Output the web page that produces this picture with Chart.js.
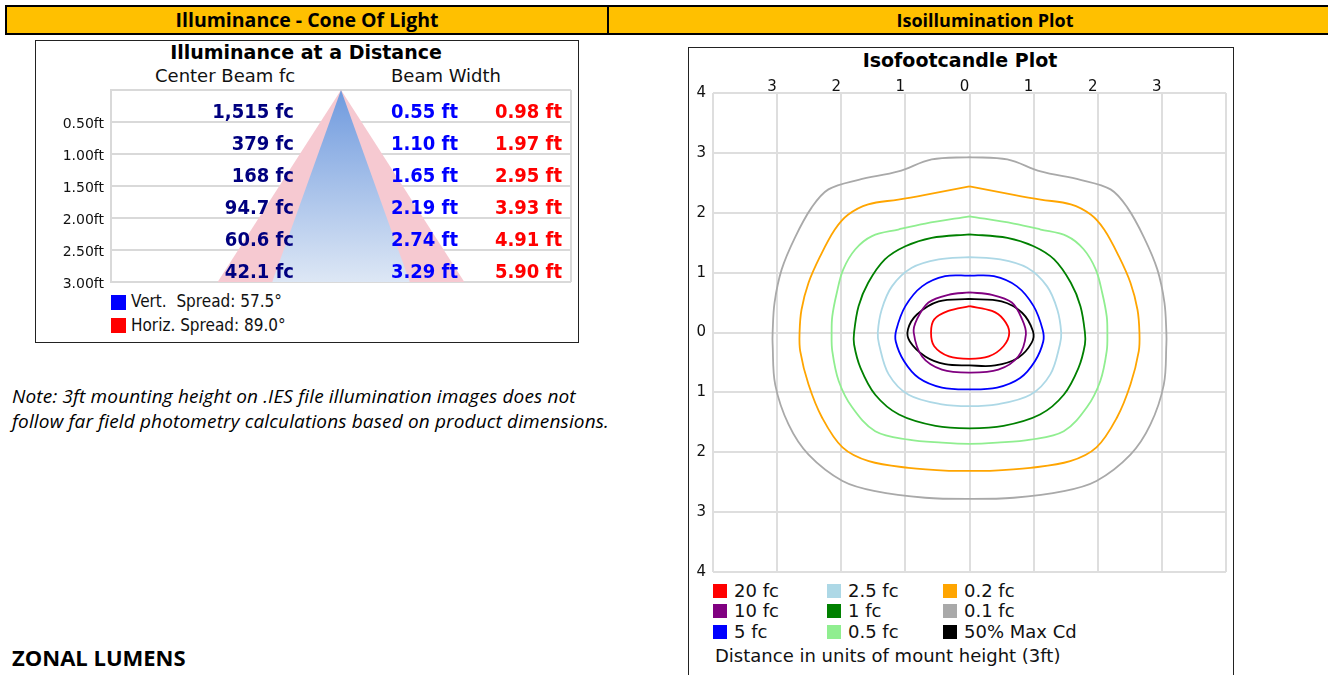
<!DOCTYPE html>
<html>
<head>
<meta charset="utf-8">
<script src="https://cdn.jsdelivr.net/npm/chart.js@4.4.1/dist/chart.umd.min.js"></script>
<style>
  body { margin: 0; background: #fff; width: 1328px; height: 675px; overflow: hidden; position: relative;
         font-family: 'DejaVu Sans', sans-serif; color: #000; }
  .bar { position: absolute; top: 5px; height: 26px; background: #ffc000; border: 2px solid #000;
         font-family: 'Open Sans', sans-serif; font-weight: bold; text-align: center; line-height: 26px; }
  #barL { left: 5px; width: 600px; font-size: 19.5px; }
  #barR { left: 607px; width: 740px; font-size: 18px; }
  .box { position: absolute; border: 1px solid #222; background: #fff; }
  .abs { position: absolute; white-space: nowrap; }
  canvas { position: absolute; }
  .sq { position: absolute; width: 14px; height: 14px; }
</style>
</head>
<body>
<div class="bar" id="barL">Illuminance - Cone Of Light</div>
<div class="bar" id="barR"><span style="position:relative; left:6px;">Isoillumination Plot</span></div>

<div class="box" style="left:35px; top:40px; width:542px; height:301px;"></div>
<div class="abs" style="left:35px; top:41px; width:542px; text-align:center; font-weight:bold; font-size:19px;">Illuminance at a Distance</div>
<div class="abs" style="left:155px; top:65px; font-size:18px; color:#111;">Center Beam fc</div>
<div class="abs" style="left:391px; top:65px; font-size:18px; color:#111;">Beam Width</div>
<div id="coneLegend"></div>
<canvas id="cone" width="541" height="300" style="left:36px; top:41px; width:541px; height:300px;"></canvas>

<div class="abs" style="left:12px; top:384px; font: italic 19px 'Open Sans', sans-serif; line-height:25px; letter-spacing:0.15px;">
Note: 3ft mounting height on .IES file illumination images does not<br>follow far field photometry calculations based on product dimensions.</div>
<div class="abs" style="left:12px; top:642px; font: bold 22px 'Open Sans', sans-serif;">ZONAL LUMENS</div>

<div class="box" style="left:688px; top:47px; width:544px; height:660px;"></div>
<div class="abs" style="left:688px; top:49px; width:544px; text-align:center; font-weight:bold; font-size:19px;">Isofootcandle Plot</div>
<canvas id="iso" width="542" height="530" style="left:689px; top:48px; width:542px; height:530px;"></canvas>
<div id="isoLegend"></div>
<div class="abs" style="left:715px; top:645px; font-size:18px; color:#111;">Distance in units of mount height (3ft)</div>

<script>
// cone of light data
const coneDistances = [0.5, 1.0, 1.5, 2.0, 2.5, 3.0];
const centerBeamFc = [1515, 379, 168, 94.7, 60.6, 42.1];
const vertWidthFt = [0.55, 1.10, 1.65, 2.19, 2.74, 3.29];
const horizWidthFt = [0.98, 1.97, 2.95, 3.93, 4.91, 5.90];
const vertSpread = 57.5;
const horizSpread = 89.0;

// isofootcandle contours, [x, y] in mount heights
const iso20 = [[0,0.44],[0.35,0.36],[0.53,0.22],[0.62,0],[0.53,-0.23],[0.30,-0.40],[0,-0.44],
  [-0.32,-0.40],[-0.55,-0.23],[-0.60,0],[-0.55,0.22],[-0.33,0.36],[0,0.44]];
const iso10 = [[0,0.67],[0.35,0.63],[0.66,0.50],[0.82,0.22],[0.88,-0.03],[0.76,-0.40],[0.45,-0.62],[0,-0.67],
  [-0.43,-0.62],[-0.74,-0.40],[-0.87,0],[-0.82,0.22],[-0.64,0.50],[-0.33,0.63],[0,0.67]];
const iso5 = [[0,0.95],[0.38,0.94],[0.74,0.77],[1.0,0.44],[1.14,0.05],[1.15,-0.15],[1.02,-0.48],[0.79,-0.76],[0.43,-0.92],[0,-0.95],
  [-0.43,-0.92],[-0.79,-0.76],[-1.02,-0.48],[-1.15,-0.15],[-1.14,0.05],[-1.0,0.44],[-0.74,0.77],[-0.38,0.94],[0,0.95]];
const iso2_5 = [[0,1.26],[0.48,1.22],[0.90,1.08],[1.21,0.77],[1.37,0.38],[1.43,0],[1.41,-0.2],[1.26,-0.70],[0.95,-1.04],[0.43,-1.20],[0,-1.23],
  [-0.43,-1.20],[-0.95,-1.04],[-1.26,-0.70],[-1.41,-0.2],[-1.43,0],[-1.37,0.38],[-1.21,0.77],[-0.90,1.08],[-0.48,1.22],[0,1.26]];
const iso1 = [[0,1.64],[0.59,1.58],[1.0,1.44],[1.32,1.22],[1.58,0.83],[1.73,0.44],[1.80,0],[1.80,-0.2],[1.70,-0.59],[1.47,-1.04],[1.10,-1.37],[0.53,-1.56],[0,-1.60],
  [-0.53,-1.56],[-1.10,-1.37],[-1.47,-1.04],[-1.70,-0.59],[-1.80,-0.2],[-1.80,0],[-1.73,0.44],[-1.58,0.83],[-1.32,1.22],[-1.0,1.44],[-0.59,1.58],[0,1.64]];
const iso0_5 = [[0,1.94],[0.69,1.82],[1.11,1.72],[1.52,1.61],[1.78,1.39],[1.97,1.05],[2.07,0.66],[2.14,0.27],[2.15,0],[2.14,-0.31],[2.04,-0.81],[1.83,-1.25],[1.47,-1.65],[0.95,-1.79],[0.43,-1.84],[0,-1.86],
  [-0.43,-1.84],[-0.95,-1.79],[-1.47,-1.65],[-1.83,-1.25],[-2.04,-0.81],[-2.14,-0.31],[-2.15,0],[-2.14,0.27],[-2.07,0.66],[-1.97,1.05],[-1.78,1.39],[-1.52,1.61],[-1.11,1.72],[-0.69,1.82],[0,1.94]];
const iso0_2 = [[0,2.44],[0.69,2.30],[1.11,2.22],[1.58,2.14],[1.89,1.97],[2.10,1.72],[2.33,1.27],[2.51,0.83],[2.62,0.38],[2.65,0],[2.64,-0.31],[2.51,-0.87],[2.30,-1.42],[1.98,-1.92],[1.57,-2.15],[0.95,-2.26],[0.32,-2.31],[0,-2.31],
  [-0.32,-2.31],[-0.95,-2.26],[-1.57,-2.15],[-1.98,-1.92],[-2.30,-1.42],[-2.51,-0.87],[-2.64,-0.31],[-2.65,0],[-2.62,0.38],[-2.51,0.83],[-2.33,1.27],[-2.10,1.72],[-1.89,1.97],[-1.58,2.14],[-1.11,2.22],[-0.69,2.30],[0,2.44]];
const iso0_1 = [[0,2.93],[0.59,2.89],[1.11,2.69],[1.73,2.55],[2.20,2.39],[2.46,2.09],[2.72,1.59],[2.93,1.05],[3.04,0.50],[3.07,0],[3.07,-0.2],[3.03,-0.87],[2.82,-1.54],[2.51,-2.04],[1.98,-2.48],[1.47,-2.65],[0.69,-2.76],[0,-2.78],
  [-0.69,-2.76],[-1.47,-2.65],[-1.98,-2.48],[-2.51,-2.04],[-2.82,-1.54],[-3.03,-0.87],[-3.07,-0.2],[-3.07,0],[-3.04,0.50],[-2.93,1.05],[-2.72,1.59],[-2.46,2.09],[-2.20,2.39],[-1.73,2.55],[-1.11,2.69],[-0.59,2.89],[0,2.93]];
const isoMaxCd = [[0,0.56],[0.50,0.52],[0.82,0.33],[0.99,0.02],[0.97,-0.17],[0.76,-0.42],[0.40,-0.55],[0,-0.55],
  [-0.38,-0.53],[-0.69,-0.40],[-0.93,-0.15],[-0.96,0.05],[-0.82,0.30],[-0.48,0.52],[0,0.56]];

const isoLevels = ['20 fc', '10 fc', '5 fc', '2.5 fc', '1 fc', '0.5 fc', '0.2 fc', '0.1 fc', '50% Max Cd'];
const isoColors = ['#ff0000', '#800080', '#0000ff', '#add8e6', '#008000', '#90ee90', '#ffa500', '#a9a9a9', '#000000'];
const isoContours = [iso20, iso10, iso5, iso2_5, iso1, iso0_5, iso0_2, iso0_1, isoMaxCd];
const isoTicks = [-4, -3, -2, -1, 0, 1, 2, 3, 4];

Chart.defaults.font.family = "'DejaVu Sans', sans-serif";
Chart.defaults.color = '#111';
Chart.defaults.animation = false;

// cone legend
const coneLeg = document.getElementById('coneLegend');
coneLeg.innerHTML =
  '<div class="sq" style="left:111px; top:295px; width:15px; height:15px; background:#0000ff"></div>' +
  '<div class="abs" style="left:131px; top:291px; font-family:\'DejaVu Sans Condensed\'; font-size:17px; color:#111;">Vert.&nbsp; Spread: ' + vertSpread.toFixed(1) + '°</div>' +
  '<div class="sq" style="left:111px; top:318px; width:15px; height:15px; background:#ff0000"></div>' +
  '<div class="abs" style="left:131px; top:315px; font-family:\'DejaVu Sans Condensed\'; font-size:17px; color:#111;">Horiz. Spread: ' + horizSpread.toFixed(1) + '°</div>';

// row values written on the cone
const coneText = {
  id: 'coneText',
  afterDraw(chart) {
    const { ctx, chartArea, scales } = chart;
    ctx.save();
    ctx.font = "bold 20px 'DejaVu Sans Condensed', 'DejaVu Sans', sans-serif";
    ctx.textAlign = 'right';
    ctx.textBaseline = 'alphabetic';
    coneDistances.forEach((d, i) => {
      const y = scales.y.getPixelForValue(d) - 4;
      ctx.fillStyle = '#00007f';
      ctx.fillText(centerBeamFc[i].toLocaleString('en-US') + ' fc', chartArea.left + 183, y);
      ctx.fillStyle = '#0000ff';
      ctx.fillText(vertWidthFt[i].toFixed(2) + ' ft', chartArea.left + 347, y);
      ctx.fillStyle = '#ff0000';
      ctx.fillText(horizWidthFt[i].toFixed(2) + ' ft', chartArea.left + 451, y);
    });
    ctx.restore();
  }
};

const last = coneDistances.length - 1;
new Chart(document.getElementById('cone'), {
  type: 'scatter',
  data: {
    datasets: [
      {
        // vertical spread cone, drawn on top
        data: [{ x: -vertWidthFt[last] / 2, y: coneDistances[last] }, { x: 0, y: 0 }, { x: vertWidthFt[last] / 2, y: coneDistances[last] }],
        showLine: true, borderWidth: 0, pointRadius: 0, tension: 0,
        backgroundColor: (c) => {
          const area = c.chart.chartArea;
          if (!area) return '#a9c2ec';
          const g = c.chart.ctx.createLinearGradient(0, area.top, 0, area.bottom);
          g.addColorStop(0, '#6f9ade');
          g.addColorStop(1, '#dde7f5');
          return g;
        },
        fill: { value: coneDistances[last] }
      },
      {
        // horizontal spread cone
        data: [{ x: -horizWidthFt[last] / 2, y: coneDistances[last] }, { x: 0, y: 0 }, { x: horizWidthFt[last] / 2, y: coneDistances[last] }],
        showLine: true, borderWidth: 0, pointRadius: 0, tension: 0,
        backgroundColor: '#f6c9d1', fill: { value: coneDistances[last] }
      }
    ]
  },
  options: {
    responsive: false,
    layout: { padding: { top: 49, right: 6, bottom: 59, left: 0 } },
    plugins: { legend: { display: false }, tooltip: { enabled: false } },
    scales: {
      x: {
        min: -5.5, max: 5.5, z: 1,
        afterBuildTicks: (s) => { s.ticks = [{ value: -5.5 }, { value: 0 }, { value: 5.5 }]; },
        afterFit: (s) => { s.height = 0; s.paddingLeft = 0; s.paddingRight = 0; },
        ticks: { display: false },
        border: { display: false },
        grid: { drawTicks: false, lineWidth: 2, color: (c) => c.tick.value === 0 ? 'rgba(170,170,170,0.45)' : '#d9d9d9' }
      },
      y: {
        reverse: true, min: 0, max: 3, z: 1,
        afterBuildTicks: (s) => { s.ticks = [0].concat(coneDistances).map(v => ({ value: v })); },
        afterFit: (s) => { s.width = 75; s.paddingTop = 0; s.paddingBottom = 0; },
        ticks: {
          padding: 7, labelOffset: 2,
          font: { size: 14 }, color: '#111',
          callback: (v) => v === 0 ? '' : v.toFixed(2) + 'ft'
        },
        border: { display: true, color: '#d9d9d9', width: 2 },
        grid: { drawTicks: false, lineWidth: 2, color: '#d9d9d9' }
      }
    }
  },
  plugins: [coneText]
});

// isofootcandle plot
new Chart(document.getElementById('iso'), {
  type: 'scatter',
  data: {
    datasets: isoContours.map((pts, i) => ({
      label: isoLevels[i],
      data: pts.map(p => ({ x: p[0], y: p[1] })),
      showLine: true, fill: false, pointRadius: 0,
      borderColor: isoColors[i], borderWidth: 1.8, tension: 0.35
    }))
  },
  options: {
    responsive: false,
    layout: { padding: { top: 0, right: 5, bottom: 6, left: 0 } },
    plugins: { legend: { display: false }, tooltip: { enabled: false } },
    scales: {
      x: {
        position: 'top', min: -4, max: 4,
        afterBuildTicks: (s) => { s.ticks = isoTicks.map(v => ({ value: v })); },
        afterFit: (s) => { s.height = 45; s.paddingLeft = 0; s.paddingRight = 0; },
        ticks: {
          padding: -3, labelOffset: -5, maxRotation: 0,
          font: { size: 15 }, color: '#111',
          callback: (v) => Math.abs(v) === 4 ? '' : String(Math.abs(v))
        },
        border: { display: false },
        grid: { drawTicks: false, lineWidth: 2, color: '#dedede' }
      },
      y: {
        min: -4, max: 4,
        afterBuildTicks: (s) => { s.ticks = isoTicks.map(v => ({ value: v })); },
        afterFit: (s) => { s.width = 24; s.paddingTop = 0; s.paddingBottom = 0; },
        ticks: {
          padding: 7, font: { size: 15 }, color: '#111',
          callback: (v) => String(Math.abs(v))
        },
        border: { display: false },
        grid: { drawTicks: false, lineWidth: 2, color: '#dedede' }
      }
    }
  }
});

// isofootcandle legend, three per column
const isoLeg = document.getElementById('isoLegend');
const colX = [713, 827, 943];
const rowY = [584, 604, 625];
isoLevels.forEach((lab, i) => {
  const cx = colX[Math.floor(i / 3)], cy = rowY[i % 3];
  isoLeg.innerHTML +=
    '<div class="sq" style="left:' + cx + 'px; top:' + cy + 'px; background:' + isoColors[i] + '"></div>' +
    '<div class="abs" style="left:' + (cx + 21) + 'px; top:' + (cy - 4) + 'px; font-size:18px; color:#111;">' + lab + '</div>';
});
</script>
</body>
</html>
